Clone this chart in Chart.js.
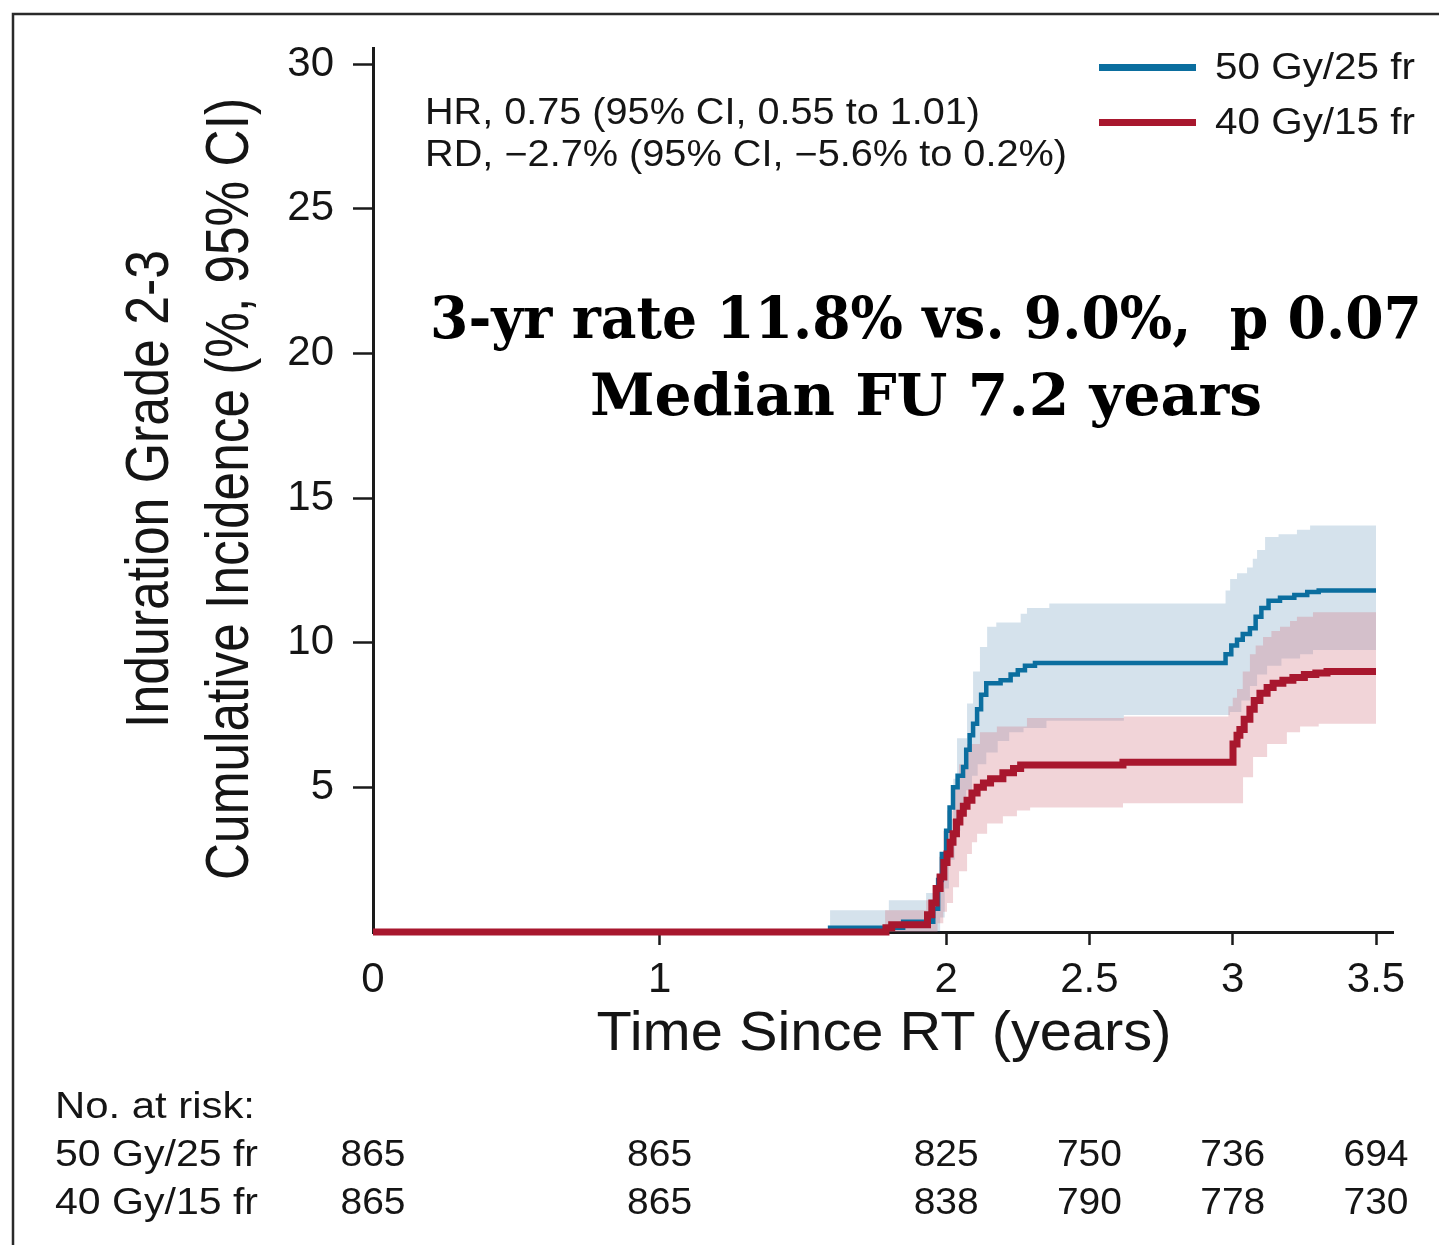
<!DOCTYPE html>
<html>
<head>
<meta charset="utf-8">
<script src="https://cdn.jsdelivr.net/npm/chart.js@4.4.1/dist/chart.umd.min.js"></script>
<style>
  html, body { margin: 0; padding: 0; background: #fff; overflow: hidden; }
  canvas { display: block; }
</style>
</head>
<body>
<canvas id="chart" width="1439" height="1245"></canvas>
<script>
// ---- series labels ----
const seriesLabels = ['50 Gy/25 fr', '40 Gy/15 fr'];

// ---- cumulative incidence, 50 Gy/25 fr (years, %) ----
const blueTime = [0, 1.595, 1.85, 1.955, 1.972, 1.985, 2.000, 2.012, 2.024, 2.040, 2.059, 2.070, 2.082, 2.094, 2.108, 2.122, 2.140, 2.190, 2.225, 2.250, 2.275, 2.310, 2.975, 2.995, 3.015, 3.035, 3.060, 3.080, 3.100, 3.125, 3.165, 3.215, 3.260, 3.300, 3.5];
const blueRate = [0, 0.15, 0.35, 0.8, 1.8, 2.7, 3.5, 4.3, 5.0, 5.4, 5.7, 6.3, 6.8, 7.2, 7.7, 8.2, 8.6, 8.7, 8.9, 9.05, 9.2, 9.3, 9.6, 9.9, 10.1, 10.3, 10.5, 10.9, 11.2, 11.45, 11.55, 11.65, 11.75, 11.8, 11.8];
const blueUpperTime = [0, 1.595, 1.80, 1.93, 1.965, 1.989, 2.013, 2.025, 2.038, 2.073, 2.094, 2.118, 2.143, 2.175, 2.26, 2.282, 2.36, 2.975, 2.991, 3.015, 3.05, 3.07, 3.085, 3.113, 3.16, 3.224, 3.27, 3.5];
const blueUpperRate = [0, 0.75, 1.1, 1.35, 2.0, 2.7, 3.9, 5.3, 6.7, 7.9, 9.0, 9.85, 10.55, 10.7, 11.0, 11.2, 11.35, 11.8, 12.2, 12.4, 12.6, 12.9, 13.2, 13.65, 13.75, 13.9, 14.05, 14.05];
const blueLowerTime = [0, 1.979, 1.995, 2.01, 2.03, 2.05, 2.07, 2.09, 2.11, 2.14, 2.18, 2.22, 2.27, 2.35, 2.62, 2.99, 3.03, 3.06, 3.085, 3.12, 3.17, 3.235, 3.28, 3.5];
const blueLowerRate = [0, 0.5, 1.5, 2.5, 3.5, 4.3, 4.9, 5.4, 5.8, 6.2, 6.6, 6.9, 7.05, 7.3, 7.5, 7.6, 8.0, 8.5, 8.9, 9.2, 9.45, 9.6, 9.75, 9.75];

// ---- cumulative incidence, 40 Gy/15 fr (years, %) ----
const redTime = [0, 1.79, 1.81, 1.935, 1.950, 1.965, 1.979, 1.992, 2.003, 2.014, 2.024, 2.036, 2.048, 2.060, 2.073, 2.090, 2.108, 2.130, 2.155, 2.198, 2.235, 2.260, 2.617, 3.001, 3.015, 3.025, 3.040, 3.060, 3.075, 3.095, 3.120, 3.141, 3.175, 3.210, 3.250, 3.290, 3.329, 3.5];
const redRate = [0, 0.15, 0.25, 0.6, 1.0, 1.5, 1.9, 2.4, 2.7, 3.1, 3.4, 3.8, 4.1, 4.35, 4.55, 4.8, 5.0, 5.15, 5.3, 5.5, 5.65, 5.77, 5.87, 6.5, 6.8, 7.0, 7.35, 7.7, 8.0, 8.25, 8.45, 8.6, 8.7, 8.8, 8.9, 8.95, 9.0, 9.0];
const redUpperTime = [0, 1.787, 1.93, 1.955, 1.975, 1.99, 2.003, 2.024, 2.045, 2.073, 2.118, 2.177, 2.282, 2.62, 2.985, 3.0, 3.015, 3.035, 3.06, 3.08, 3.106, 3.135, 3.165, 3.2, 3.224, 3.28, 3.5];
const redUpperRate = [0, 0.75, 1.1, 1.6, 2.6, 3.5, 4.2, 5.0, 5.8, 6.5, 6.9, 7.1, 7.4, 7.45, 7.8, 8.1, 8.4, 9.0, 9.6, 9.9, 10.2, 10.4, 10.55, 10.75, 10.9, 11.05, 11.1];
const redLowerTime = [0, 1.97, 1.99, 2.003, 2.024, 2.045, 2.073, 2.09, 2.108, 2.143, 2.198, 2.247, 2.293, 2.617, 3.0, 3.036, 3.071, 3.12, 3.189, 3.235, 3.3, 3.5];
const redLowerRate = [0, 0.3, 0.7, 1.0, 1.55, 2.1, 2.7, 3.1, 3.4, 3.75, 4.0, 4.2, 4.3, 4.45, 4.45, 5.35, 6.05, 6.5, 6.9, 7.1, 7.2, 7.2];

// ---- axis ticks ----
const xTickValues = [0, 1, 2, 2.5, 3, 3.5];
const yTickValues = [5, 10, 15, 20, 25, 30];

// ---- numbers at risk ----
const riskTimes = [0, 1, 2, 2.5, 3, 3.5];
const riskBlue = [865, 865, 825, 750, 736, 694];
const riskRed = [865, 865, 838, 790, 778, 730];

// ---- annotation text ----
const statLines = ['HR, 0.75 (95% CI, 0.55 to 1.01)', 'RD, \u22122.7% (95% CI, \u22125.6% to 0.2%)'];
const headlineLines = ['3-yr rate 11.8% vs. 9.0%,  p 0.07', 'Median FU 7.2 years'];
const yTitleLines = ['Induration Grade 2-3', 'Cumulative Incidence (%, 95% CI)'];
const xTitle = 'Time Since RT (years)';

const BLUE = '#0b6e9f';
const RED = '#a8172e';
const BLUE_BAND = 'rgba(45,110,160,0.2)';
const RED_BAND = 'rgba(208,112,125,0.3)';
const INK = '#151515';
const SANS = "'Liberation Sans', Arial, Helvetica, sans-serif";
const SERIF = "'DejaVu Serif', 'Liberation Serif', serif";

const pts = (t, v) => t.map((x, i) => ({ x: x, y: v[i] }));

// draws text squeezed/stretched horizontally to a given width
function fitText(ctx, text, x, y, width, font, align) {
  ctx.save();
  ctx.font = font;
  const w = ctx.measureText(text).width;
  const sx = width / w;
  ctx.translate(x, y);
  ctx.scale(sx, 1);
  ctx.textAlign = align || 'left';
  ctx.textBaseline = 'alphabetic';
  ctx.fillText(text, 0, 0);
  ctx.restore();
}

const decor = {
  id: 'decor',
  afterDraw(chart) {
    const ctx = chart.ctx;
    const xs = chart.scales.x;
    ctx.save();
    ctx.fillStyle = INK;

    // frame
    ctx.strokeStyle = '#2a2a2a';
    ctx.lineWidth = 2.5;
    ctx.beginPath();
    ctx.moveTo(13, 1245);
    ctx.lineTo(13, 14);
    ctx.lineTo(1439, 14);
    ctx.stroke();

    // y axis title (two lines, rotated)
    const yTitle = [[yTitleLines[0], 168, 489, 478], [yTitleLines[1], 248, 489, 782]];
    yTitle.forEach(([txt, bx, cy, w]) => {
      ctx.save();
      ctx.translate(bx, cy);
      ctx.rotate(-Math.PI / 2);
      fitText(ctx, txt, 0, 0, w, '62px ' + SANS, 'center');
      ctx.restore();
    });

    // x axis title
    fitText(ctx, xTitle, 884, 1050, 575, '56px ' + SANS, 'center');

    // statistics
    fitText(ctx, statLines[0], 425, 124, 555, '36px ' + SANS, 'left');
    fitText(ctx, statLines[1], 425, 166, 642, '36px ' + SANS, 'left');

    // headline
    ctx.fillStyle = '#000';
    fitText(ctx, headlineLines[0], 926, 338, 992, 'bold 58px ' + SERIF, 'center');
    fitText(ctx, headlineLines[1], 926, 415, 672, 'bold 58px ' + SERIF, 'center');
    ctx.fillStyle = INK;

    // legend
    const lineDs = [0, 1];
    lineDs.forEach((di, k) => {
      const ds = chart.data.datasets[di];
      const cy = 67.5 + k * 55;
      ctx.strokeStyle = ds.borderColor;
      ctx.lineWidth = 7;
      ctx.beginPath();
      ctx.moveTo(1099, cy);
      ctx.lineTo(1196, cy);
      ctx.stroke();
      fitText(ctx, ds.label, 1215, cy + 11, 200, '36px ' + SANS, 'left');
    });

    // numbers at risk
    fitText(ctx, 'No. at risk:', 55, 1118, 200, '37px ' + SANS, 'left');
    fitText(ctx, seriesLabels[0], 55, 1166, 203, '37px ' + SANS, 'left');
    fitText(ctx, seriesLabels[1], 55, 1214, 203, '37px ' + SANS, 'left');
    riskTimes.forEach((t, i) => {
      const px = xs.getPixelForValue(t);
      fitText(ctx, String(riskBlue[i]), px, 1166, 65, '37px ' + SANS, 'center');
      fitText(ctx, String(riskRed[i]), px, 1214, 65, '37px ' + SANS, 'center');
    });
    ctx.restore();
  }
};

const lineBase = { stepped: true, pointRadius: 0, pointHoverRadius: 0, clip: false, fill: false };

new Chart(document.getElementById('chart'), {
  type: 'line',
  data: {
    datasets: [
      Object.assign({}, lineBase, { label: seriesLabels[0], data: pts(blueTime, blueRate), borderColor: BLUE, borderWidth: 4.5, order: 1 }),
      Object.assign({}, lineBase, { label: seriesLabels[1], data: pts(redTime, redRate), borderColor: RED, borderWidth: 7, order: 0 }),
      Object.assign({}, lineBase, { label: 'lo1', data: pts(blueLowerTime, blueLowerRate), borderColor: 'rgba(0,0,0,0)', borderWidth: 0, order: 5 }),
      Object.assign({}, lineBase, { label: 'hi1', data: pts(blueUpperTime, blueUpperRate), borderColor: 'rgba(0,0,0,0)', borderWidth: 0, backgroundColor: BLUE_BAND, fill: 2, order: 4 }),
      Object.assign({}, lineBase, { label: 'lo2', data: pts(redLowerTime, redLowerRate), borderColor: 'rgba(0,0,0,0)', borderWidth: 0, order: 3 }),
      Object.assign({}, lineBase, { label: 'hi2', data: pts(redUpperTime, redUpperRate), borderColor: 'rgba(0,0,0,0)', borderWidth: 0, backgroundColor: RED_BAND, fill: 4, order: 2 })
    ]
  },
  options: {
    responsive: false,
    animation: false,
    devicePixelRatio: 1,
    events: [],
    layout: { padding: { top: 48, right: 46, left: 0, bottom: 0 } },
    plugins: { legend: { display: false }, tooltip: { enabled: false } },
    scales: {
      x: {
        type: 'linear',
        min: 0,
        max: 3.5593,
        afterBuildTicks: s => { s.ticks = xTickValues.map(v => ({ value: v })); },
        afterFit: s => { s.height = 313; },
        ticks: { font: { family: SANS, size: 42 }, color: INK, padding: 10, maxRotation: 0, autoSkip: false, callback: v => String(v) },
        grid: { drawOnChartArea: false, drawTicks: true, tickLength: 13, tickWidth: 2.5,
                tickColor: c => (c.tick && c.tick.value === 0) ? 'rgba(0,0,0,0)' : '#1a1a1a' },
        border: { display: true, color: '#1a1a1a', width: 3 }
      },
      y: {
        min: 0,
        max: 30.553,
        afterBuildTicks: s => { s.ticks = yTickValues.map(v => ({ value: v })); },
        afterFit: s => { s.width = 373; },
        ticks: { font: { family: SANS, size: 42 }, color: INK, padding: 19, callback: v => String(v) },
        grid: { drawOnChartArea: false, drawTicks: true, tickLength: 20, tickWidth: 2.5, tickColor: '#1a1a1a' },
        border: { display: true, color: '#1a1a1a', width: 3 }
      }
    }
  },
  plugins: [decor]
});
</script>
</body>
</html>
